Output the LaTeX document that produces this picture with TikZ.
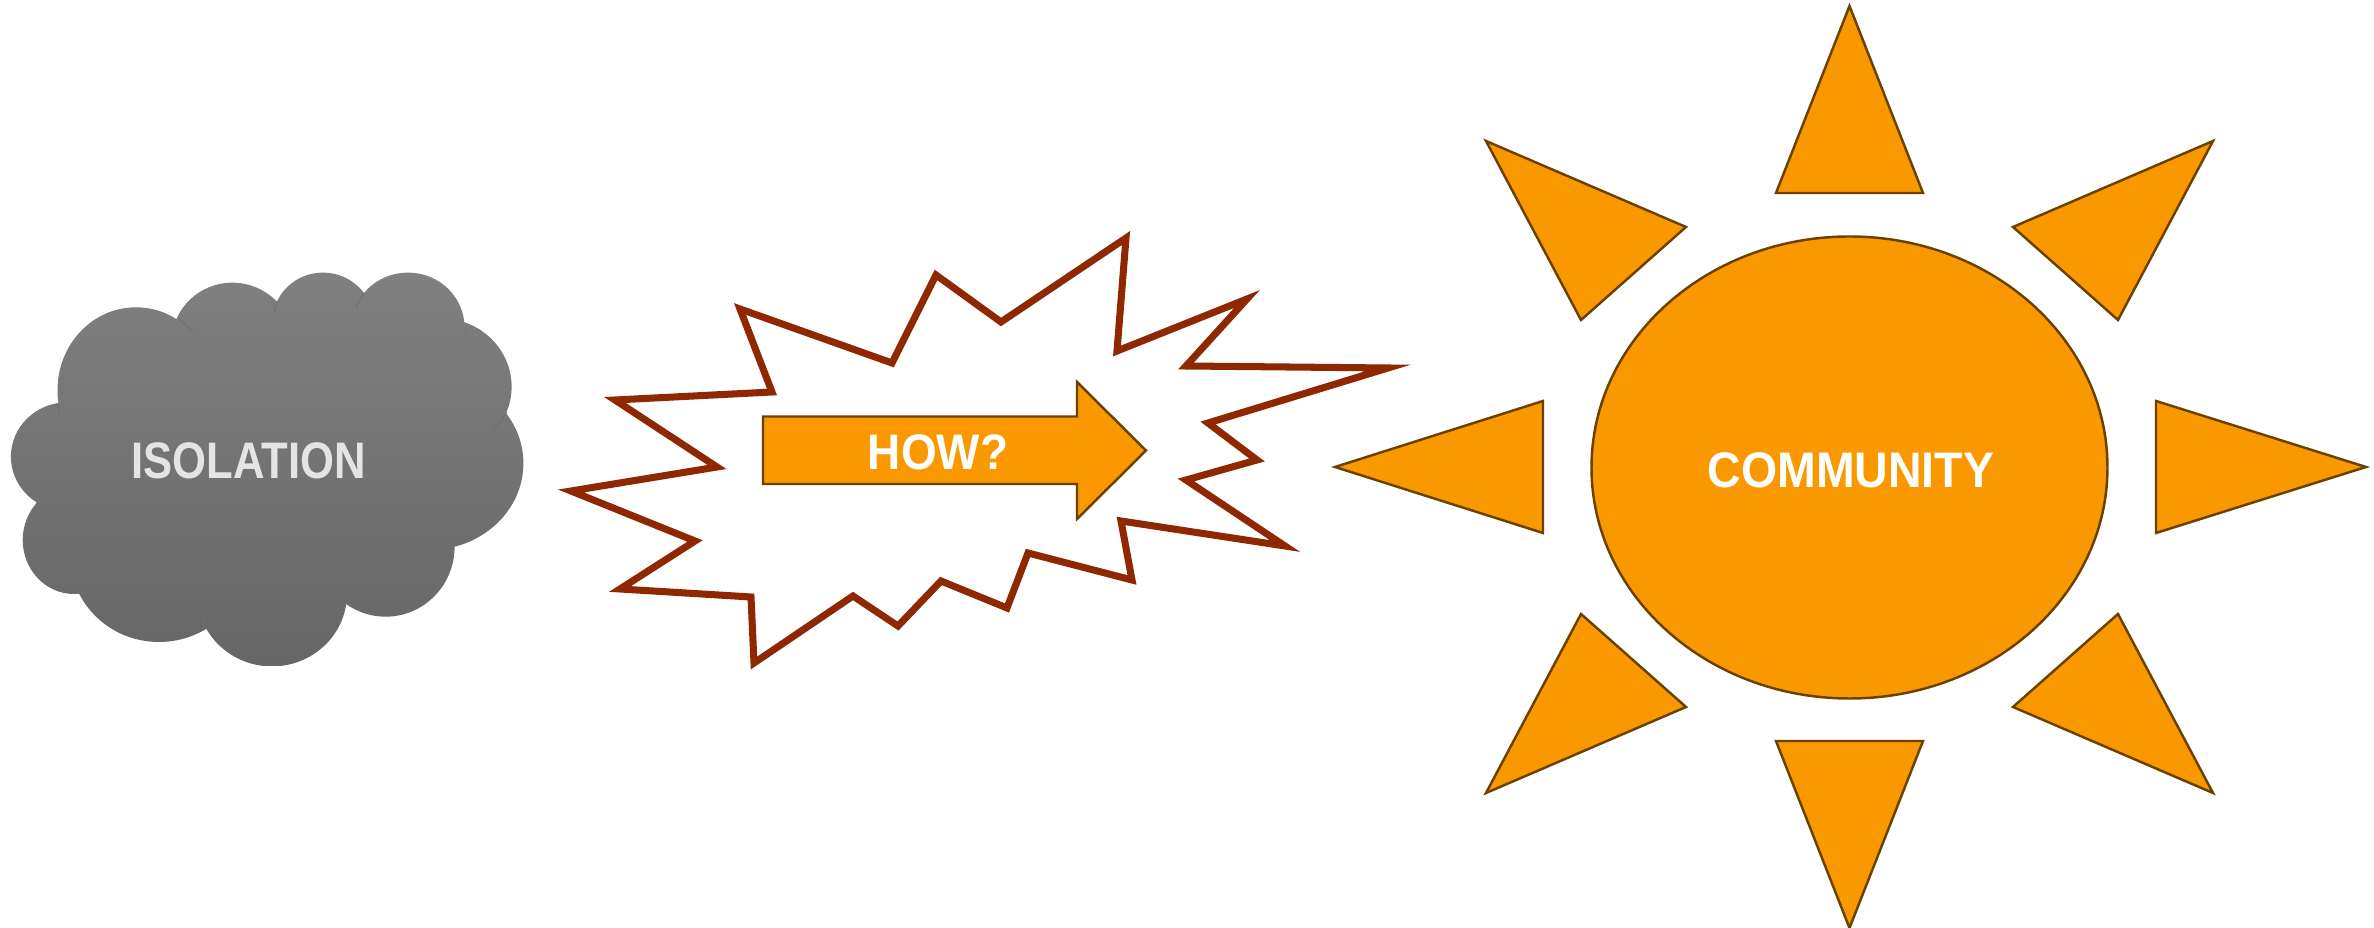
\documentclass[tikz,border=0pt]{standalone}
\usepackage{fontspec}
\usepackage{xcolor}
\usetikzlibrary{positioning}
\newfontfamily\labelfont{Liberation Sans}
\definecolor{suncol}{HTML}{FA9800}
\definecolor{sunlinecol}{HTML}{6B4100}
\definecolor{burstcol}{HTML}{8F2700}
\definecolor{cloudtopcol}{HTML}{808080}
\definecolor{cloudbotcol}{HTML}{666666}
\definecolor{cloudlinecol}{HTML}{6F6F6F}
\definecolor{cloudtextcol}{HTML}{E4E4E4}
\tikzset{
  sunpart/.style={draw=sunlinecol, fill=suncol, line width=0.7pt},
  burstline/.style={draw=burstcol, fill=white, line width=2pt, miter limit=20},
  biglabel/.style={inner sep=0pt}
}

\begin{document}
\begin{tikzpicture}[x=0.01cm, y=-0.01cm]
\useasboundingbox (0,0) rectangle (2374,928);

% cloud
\begin{scope}
\clip (136,390) ellipse [x radius=78.5, y radius=82.7]
  (232.4,341) ellipse [x radius=60.3, y radius=58.3]
  (323,321.3) ellipse [x radius=50.3, y radius=48.7]
  (408,327.3) ellipse [x radius=56.5, y radius=54.7]
  (441,386.7) ellipse [x radius=70.6, y radius=68.3]
  (429,463.3) ellipse [x radius=94.4, y radius=86.7]
  (385.7,546.7) ellipse [x radius=68.9, y radius=70]
  (272,593.7) ellipse [x radius=75, y radius=72.7]
  (159,556) ellipse [x radius=88.8, y radius=86]
  (74,540) ellipse [x radius=51.3, y radius=54]
  (67,456.7) ellipse [x radius=56.1, y radius=54.3]
  (258,467) ellipse [x radius=170, y radius=130]
  (320,390) ellipse [x radius=130, y radius=90];
\shade[top color=cloudtopcol, bottom color=cloudbotcol] (0,273) rectangle (540,666);
\end{scope}
\draw[cloudlinecol, line width=0.25pt]
  (178,318) -- (193,331) (277,301) -- (274,314) (364,293) -- (356,307)
  (466,323) -- (466,332) (507,412) -- (490,435) (455,546) -- (448,510)
  (350,607) -- (353,587) (207,629) -- (199,610) (81,594) -- (96,587)
  (36,503) -- (57,508) (57,403) -- (60,415);
\node[biglabel, cloudtextcol, font=\labelfont\bfseries\fontsize{14.6}{16}\selectfont\addfontfeature{FakeStretch=0.85}] (isolation) at (248.5,461) {ISOLATION};

% burst
\draw[burstline] (740,309) -- (892,363) -- (936,275) -- (1001,322) -- (1126,238)
  -- (1117,351) -- (1247,299) -- (1186,366) -- (1388,368) -- (1208,423)
  -- (1257,460) -- (1186,480) -- (1285,546) -- (1121,521) -- (1132,580)
  -- (1028,553) -- (1007,608) -- (941,581) -- (898,626) -- (853,596)
  -- (754,663) -- (751,597) -- (620,589) -- (695,541) -- (571,491)
  -- (717,467) -- (615,400) -- (772,392) -- cycle;

% arrow
\draw[sunpart] (763,416.5) -- (1077,416.5) -- (1077,382) -- (1146,450.5)
  -- (1077,519) -- (1077,484) -- (763,484) -- cycle;
\node[biglabel, white, font=\labelfont\bfseries\fontsize{14.2}{16}\selectfont\addfontfeature{FakeStretch=0.92}] (how) at (938,452.5) {HOW?};

% sun
\draw[sunpart] (1849.5,467.5) ellipse [x radius=258, y radius=231];
\draw[sunpart] (1849.5,6) -- (1923,193) -- (1776,193) -- cycle;
\draw[sunpart] (1849.5,928) -- (1923,741) -- (1776,741) -- cycle;
\draw[sunpart] (1335,467) -- (1543,401) -- (1543,533) -- cycle;
\draw[sunpart] (2366,467) -- (2156,401) -- (2156,533) -- cycle;
\draw[sunpart] (1486,141) -- (1686,227) -- (1581,320) -- cycle;
\draw[sunpart] (2213,141) -- (2013,227) -- (2118,320) -- cycle;
\draw[sunpart] (1486,793) -- (1686,707) -- (1581,614) -- cycle;
\draw[sunpart] (2213,793) -- (2013,707) -- (2118,614) -- cycle;
\node[biglabel, white, font=\labelfont\bfseries\fontsize{14.2}{16}\selectfont\addfontfeature{FakeStretch=0.93}] (community) at (1851,470) {COMMUNITY};
\end{tikzpicture}
\end{document}
